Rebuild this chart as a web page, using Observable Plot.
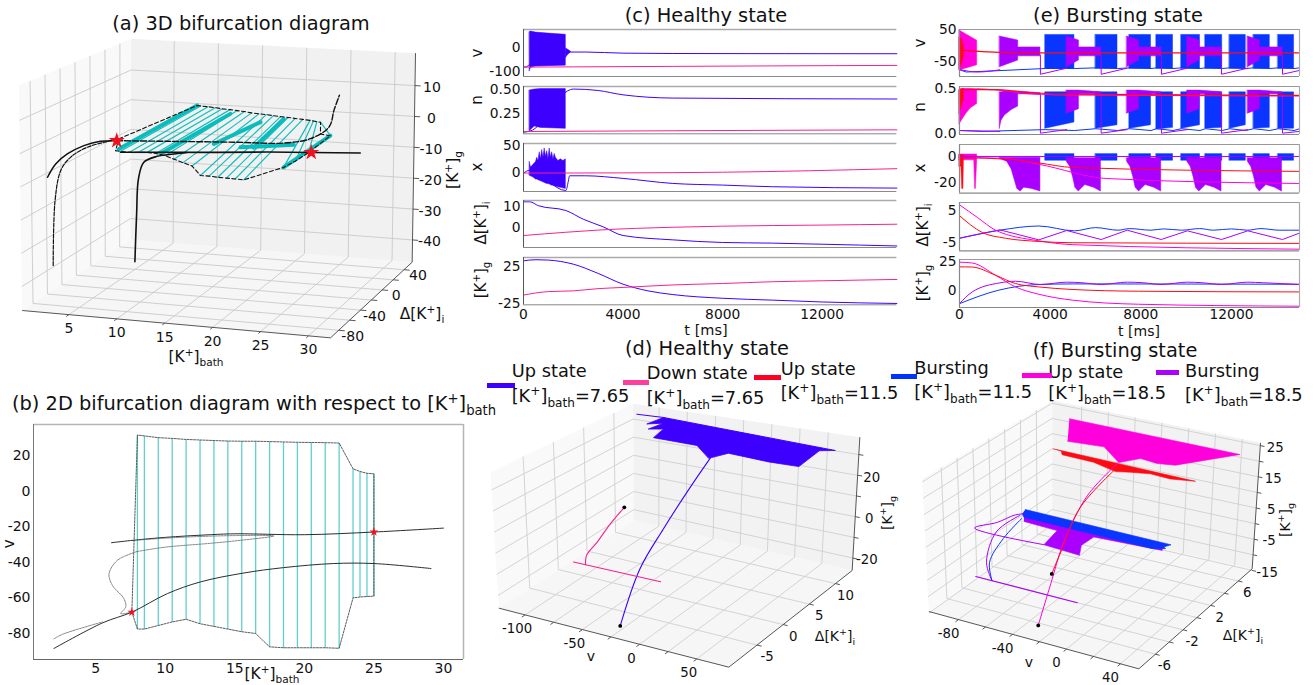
<!DOCTYPE html>
<html><head><meta charset="utf-8">
<script src="https://cdn.jsdelivr.net/npm/d3@7"></script>
<script src="https://cdn.jsdelivr.net/npm/@observablehq/plot@0.6"></script>
<style>
html,body{margin:0;padding:0;background:#fff}
#root{position:relative;width:1314px;height:685px;overflow:hidden;font-family:'DejaVu Sans',sans-serif;color:#111}
#root svg{position:absolute;background:transparent}
.lb{position:absolute;white-space:nowrap;line-height:1}
.lb sup,.lb sub{font-size:68%;line-height:0}
.sw{position:absolute}
</style></head><body><div id="root"></div>
<script>
// ---------- panel (b) ----------
const burstX=[8,8.5,9.5,10.5,11.5,12.5,13.5,14.5,15.5,16.5,17.5,18.5,19.5,20.5,21.5,22.5,23.5,24,24.5,25];
const bTop=[31.5,31,30,29.6,29,28.7,28.4,28.1,28,28,27.8,27.6,27.4,27.3,27.2,27,12.5,11,10,9.7];
const bBot=[-77.5,-77.5,-75.5,-73.5,-72,-74.5,-76,-77.5,-79,-80,-87.5,-88,-88,-88,-88,-88.3,-60,-59.5,-59.2,-59];
const bUpperX=[6.13,7.5,10,13,15,20,25,30];
const bUpperV=[-29,-27.8,-26,-24.6,-24,-24.5,-23,-20.8];
const bReturnX=[7.95,10,13,15,17.8,15,11,8];
const bReturnV=[-34,-31.5,-29.5,-28,-25.2,-25,-26,-27.5];
const bSX=[7.95,6.56,5.96,6.2,7.03,7.16,6.8,7.6];
const bSV=[-34,-38.9,-46.4,-52.9,-60.4,-65,-68.8,-68];
const bLowX=[2,5.5,7.6,10.15,12.54,15.66,18.5,22.1,25,29.1];
const bLowV=[-88.4,-74,-68,-57.6,-51,-46,-43,-40.7,-40.7,-43.5];
const bShortX=[2,2.6,5.5];
const bShortV=[-83,-80.5,-73.5];
const bStarX=[7.6,25];
const bStarV=[-68,-23];
// ---------- panel (c) ----------
const cVBurstT=[250,300,500,1000,1700];
const cVBurstTop=[62,64.6,60,56,51];
const cVBurstBot=[-99,-85,-80,-78,-76];
const cVBumpT=[1700,1780,1900];
const cVBumpTop=[-5,-10,-18];
const cVBumpBot=[-45,-33,-22];
const cVUpT=[0,100,250,1900,2500,4000,6000,15000];
const cVUpV=[-80,-82,-70,-20,-20,-24.6,-26,-27];
const cVDownT=[0,2000,6000,10000,15000];
const cVDownV=[-82,-81,-79,-77,-75];
const cNBurstT=[250,450,700,1700];
const cNBurstTop=[.49,.5,.505,.505];
const cNBurstBot=[.06,.11,.095,.085];
const cNUpT=[0,250,2000,3000,4000,6000,15000];
const cNUpV=[.05,.06,.505,.49,.444,.41,.4];
const cNDownT=[0,6000,15000];
const cNDownV=[.057,.065,.075];
const cXBurstT=[250,300,400,500,550,600,650,700,750,800,850,900,950,1000,1050,1100,1150,1200,1250,1300,1400,1500,1600,1700];
const cXBurstTop=[20,10,15,20,28,22,38,25,42,28,45,30,40,25,45,28,38,25,35,28,22,25,22,25];
const cXBurstBot=[-5,-6,-8,-12,-12,-13,-14,-15,-16,-17,-18,-19,-20,-20,-21,-22,-23,-23,-24,-25,-26,-27,-28,-29];
const cXUpT=[0,250,1700,1800,1850,2500,4000,6000,8000,10000,15000];
const cXUpV=[0,5,-32,-15,-5,-5,-9.8,-19,-22,-25,-27.5];
const cXDownT=[0,4000,8000,15000];
const cXDownV=[0,.3,1.5,8];
const cKiUpT=[0,250,600,1700,2400,3200,4000,6000,8000,10000,12000,15000];
const cKiUpV=[12,12,10.2,8,4,.5,-3.5,-5.5,-6.7,-7,-7.5,-8.3];
const cKiDownT=[0,1700,3000,6000,8000,12000,15000];
const cKiDownV=[-3.5,-2,-1,.3,.8,1.3,1.7];
const cKgUpT=[0,500,1000,2000,3000,4000,5000,6000,8000,10000,12000,15000];
const cKgUpV=[32.5,34,33.5,28,15.5,1,-8,-13,-18,-20.5,-23,-25];
const cKgDownT=[0,1000,2000,3000,4000,6000,8000,10000,12000,15000];
const cKgDownV=[-13.7,-9,-8,-5,-3.4,0,1.9,4.3,5.6,7.4];
// ---------- panel (e) ----------
const eBlueStart=[3790,6010,7500,8690,9790,10850,11920,12980,14060];
const eBlueEnd=[5070,6970,8450,9420,10610,11590,12630,13690,14760];
const ePurpleStart=[1780,4730,7390,10050,12720];
const ePurpleMid=[2590,5270,7920,10590,13250];
const ePurpleEnd=[3570,6250,8910,11560,14250];
const eVPurpleTop=[28,15.6,-6,-6];
const eVPurpleBot=[-68,-47,-34,-34];
const eVMagT=[0,780];
const eVMagTop=[47,15];
const eVMagBot=[-78,-62];
const eVRedT=[0,100,190];
const eVRedTop=[24,20,-5];
const eVRedBot=[-73,-60,-35];
const eVBlueLowT=[0,300,1000,3790,5070,6010,6970,7500,8450,8690,9420,9790,10610,10850,11590,11920,12630,12980,13690,14060,14760,15000];
const eVBlueLowV=[-76,-83,-81,-72,-72,-70,-72,-70,-72,-70,-72,-70,-72,-70,-72,-70,-72,-70,-72,-70,-72,-70];
const eVPurpleFirstT=[0,800,1780];
const eVPurpleFirstV=[-75,-83,-76];
const ePurpleNext=[4730,7390,10050,12720,15000];
const eVGapHigh=-30;
const eVGapLow=-90;
const eVGapEnd=[-71,-71,-71,-71,-78];
const eVRedT2=[190,1000,3000,15000];
const eVRedV=[-15,-19,-23,-23];
const eNBlueTop=.46;
const eNBlueBot0=[.05,.05,.05,.04,.05,.05,.05,.05,.05];
const eNBlueBot1=[.12,.09,.09,.06,.09,.06,.09,.06,.05];
const eNPurple1T=[1780,1850,2000,2300,2590,2590,3570];
const eNPurple1Top=[.46,.46,.47,.47,.47,.47,.45];
const eNPurple1Bot=[.05,.14,.2,.26,.3,.44,.43];
const eNPurpleTop=[.48,.48,.48,.46];
const eNPurpleBot=[.22,.27,.44,.44];
const eNMagT=[0,100,300,500,780];
const eNMagTop=[.49,.5,.5,.5,.495];
const eNMagBot=[.1,.14,.22,.28,.33];
const eNRedT=[0,190];
const eNRedTop=[.48,.5];
const eNRedBot=[.22,.38];
const eNRedLineT=[190,1500,3000,4500,15000];
const eNRedLineV=[.49,.49,.46,.44,.425];
const eNMagLineT=[780,1500,3000,4500,15000];
const eNMagLineV=[.5,.49,.45,.43,.42];
const eNBlueLowT=[0,1000,3790,5070,6010,6970,7500,8450,8690,9420,9790,10610,10850,11590,11920,12630,12980,13690,14060,14760,15000];
const eNBlueLowV=[.03,.02,.04,.03,.05,.03,.05,.03,.05,.03,.05,.03,.05,.03,.05,.03,.05,.03,.05,.03,.05];
const eNPurpleFirstT=[0,1780];
const eNPurpleFirstV=[.03,.02];
const eNGapHigh=.44;
const eNGapLow=0;
const eNGapEnd=[.04,.04,.04,.04,.02];
const eXBlueTop=1.8;
const eXBlueBot=-3.3;
const eXPurple1T=[1780,2100,2300,2450,2550,2700,2850,3200,3570];
const eXPurple1Bot=[-2,-4,-10,-19,-25,-27,-24,-25,-27];
const eXPurpleOff=[0,150,280,380,530,820,1200,1510];
const eXPurpleBot=[-4,-8,-16,-24,-27,-22,-24,-27];
const eXMagT=[0,650,690,720,780];
const eXMagBot=[-3,-3,-25,-25,-3];
const eXRedT=[0,80,120,170,190];
const eXRedBot=[-8,-8,-25,-25,-6];
const eXRedLineT=[190,2000,3500,5000,15000];
const eXRedLineV=[-1,-2,-5,-8.5,-11.5];
const eXMagLineT=[780,2000,3500,6500,15000];
const eXMagLineV=[-1,-1.5,-6,-17,-20.8];
const eKiMagT=[0,780,1590,3500,5000,15000];
const eKiMagV=[6.9,3,-1,-4.3,-5.5,-6.9];
const eKiRedT=[0,1000,2030,3500,5000,15000];
const eKiRedV=[3.5,-1.7,-3.5,-4.5,-4.9,-5.1];
const eKiBlueT=[0,1780,3500,5070,6000,7000,7500,8450,9000,9800,10600,11200,12000,12700,13300,14100,15000];
const eKiBlueV=[-3.5,-1,.3,-1.2,-.2,-1,-.5,-1,-.6,-1,-.5,-1,-.6,-1,-.5,-1,-1];
const eKiPurpleT=[0,1780,3500,4730,6250,7400,8900,10050,11560,12720,14250,15000];
const eKiPurpleV=[-3.5,-.9,-4,-1.1,-3.9,-1,-3.9,-1.2,-3.9,-1.2,-3.9,-1.9];
const eKgMagT=[0,560,1590,2470,3500,5000,7900,15000];
const eKgMagV=[24.7,24,13.5,3.4,-2.9,-8,-11.5,-13.2];
const eKgRedT=[0,560,1590,2470,3500,5000,7900,15000];
const eKgRedV=[20.7,20.5,13.5,6.3,3.4,1.2,-.3,-.9];
const eKgBlueT=[0,1730,3500,5000,15000];
const eKgBlueV=[-11,.6,5.5,6,5.7];
const eKgPurpleT=[0,560,1780,2470,3570,4730,5400,6250,7400,8100,8900,10050,10700,11560,12720,13400,15000];
const eKgPurpleV=[-11,-.9,6.9,8.3,5.5,7.5,7,5.5,7.5,7,5.5,7.5,7,5.5,7.5,7,5.5];
// ---------- panel (a): [K+]bath, d[K+]i, [K+]g ----------
const aTopY=[50,49,47,44.5,42,40,37.5,35,32,29.5,27,24,21,18.5,15.5,13,10,8,6,4.6];
const aTopZ=[.03,.1,.25,.4,.5,.65,.8,.95,1.05,1.2,1.4,1.6,1.8,2,2.2,2.35,2.55,2.65,2.75,2.85];
const aLowY=[-67.4,-67.7,-68.6,-69.4,-70.1,-71.5,-72,-73,-74,-74.7,-76.6,-78.2,-79.7,-81.2,-82.8,-84.4,-33.9,-22.1,-7.4,21.6];
const aLowZ=[-.75,-.85,-.88,-.62,-.36,-.35,-.8,-1.55,-2.3,-3.07,-5.5,-5.3,-5.3,-5.2,-5.1,-5,-6.9,-6.3,-5.3,-3.4];
const aStripes=[[8,-62.6,-.77,8,50.4,.03],[12.5,-64.7,-1.3,12.5,40.5,-.8],[16,-33.5,-1.1,16,39,-2.7],[19,-14.5,-3.9,19,33.4,-.5],[23.5,-33.9,-6.9,25,21.6,-3.4],[20,-50.9,.5,25,-40.7,1]];
const aCurve1=[[2,-82.4,-8.2],[2.7,-80.3,-4.3],[3.8,-78.7,-1.24],[5.3,-75.6,1.2],[6.8,-72.4,2.44],[7.65,-60.8,1.5]];
const aCurve4=[[7.65,-60.8,1.5],[13,-61.6,2.3],[19,-46.5,1.4],[24.5,-49.6,2.4],[26.5,-36.5,2.6],[28,-28.6,5.56],[28.5,-28.3,10.8],[29,-27.6,15.2]];
const aCurve2=[[2,-76,-35.8],[2.1,-73.7,-16.2],[2.6,-72,-7.2],[3.5,-70,-3.2],[5.3,-71,.2],[7.6,-66.7,2.2]];
const aCurve3=[[2,38.2,-51.4],[2.2,38,-35.6],[2.4,38,-23.8],[3,38,-18.2],[5,31.6,-15],[7,29.8,-13.6],[8.5,29.5,-12.8]];
const aCurve5=[[8,-60.2,-2.05],[18,-57.9,-.6],[22,-38.3,-2],[25,-10.7,-4.8],[30,-5.5,-4.7]];
const aStars=[[7.65,-60.8,1.5],[25,-10.7,-4.8]];
const aOutlineStart=[8,-62.6,2.3];
const aOutlineStep=[25,4.6,-.87];
// ---------- panel (d): v, d[K+]i, [K+]g ----------
const dBand=[[-83.6,10.8,38.4],[-98.3,10.8,33.6],[-83.6,10.8,35.4],[-97,10.8,31],[-83.6,10.8,32.3],[-92.4,10.8,26.9],[-53.9,10.8,26.5],[-43.4,10.8,20.9],[-26,10.8,25.2],[9.7,10.8,24.2],[36.4,10.8,24.4],[53.7,10.8,33.6],[67.3,10.8,34.9]];
const dSpike=[[-107,10.8,38],[-83.6,10.8,38.4],[67.3,10.8,34.9]];
const dUpTail=[[-27,-8.3,-25],[-25,-5.2,-4.1],[-25,-1,7.6],[-25,3.2,18.4],[-25,7.3,28.5]];
const dDownTail=[[-78,-4,-10.5],[-78,-3.8,-6.4],[-77,-2.1,-2.8],[-77,.2,2.1],[-72,1.7,8.4]];
const dDownLine=[[-91,-3.5,-11.7],[-15,-3.5,-11.7]];
const dEnds=[[-27,-8.3,-25],[-72,1.7,8.4]];
// ---------- panel (f): v, d[K+]i, [K+]g ----------
const fMagBand=[[-82.7,6.9,23.4],[44.3,6.9,23.1],[-3,6.9,15.5],[-16.7,6.9,14.8],[-29.2,6.9,15.3],[-45.4,6.9,12.5],[-56.6,6.9,16.6],[-84,6.9,15.9]];
const fRedBand=[[-75.2,3.5,19.7],[29.5,3.5,18.8],[11.1,3.5,17.9],[-3.7,3.5,18.2],[-18.3,3.5,17.4],[-29.3,3.5,16.6],[-45.4,3.5,18.1],[-68.6,3.5,18.4],[-69.2,3.5,19.4]];
const fBlueBand=[[-70.6,-1,8.1],[36.2,-1,7.3],[31.2,-1,6.2],[32.4,-1,5.8],[22.6,-1,4.9],[-71.7,-1,5.6],[-72.9,-1,6.55]];
const fPurpleBand=[[-71.7,-1,6.1],[30,-1,6.5],[30,-1,5.05],[-20.3,-1,4.4],[-29.3,-1,1],[-30.6,-1,-2.2],[-57,-1,-1.5],[-47.2,-1,3.8],[-71.7,-1,4.3]];
const fPurpleSpike=[[-57,-1,-1.5],[-108.5,-1,-1.4],[-91.3,-1,2.1],[-79,-1,5.5],[-71.7,-1,6.7]];
const fPurpleLow=[[-94.2,-3.5,-11],[-18.3,-3.5,-11.1]];
const fPurpleTail=[[-82,-3.5,-11],[-88.7,-3,-6.9],[-87.7,-1.8,.8],[-74.6,-1,5.9]];
const fBlueTail=[[-82,-3.5,-11],[-86.4,-3,-6.6],[-82.6,-1.8,-.8],[-73.4,-1,5]];
const fRedTail=[[-29,-5.1,-.9],[-31,-3.5,2.9],[-27,-1.7,13.8],[-30,3.4,17]];
const fMagTail=[[-29,-6.9,-13.2],[-29.6,-5.1,-3.9],[-28.9,-3.5,6.1],[-33.8,.6,13.4],[-34.2,4.7,16.9]];
const fEnds=[[-29,-6.9,-13.2],[-29,-5.1,-.9]];

// ---------- legend ----------
const legendColors=["#3d00ff","#ff3fa0","#ff0022","#0033ff","#ff00dd","#a900ff"];
const legendTop=["Up state","Down state","Up state","Bursting","Up state","Bursting"];
const legendBath=["7.65","7.65","11.5","11.5","18.5","18.5"];

// ---------- styles ----------
const C_UP="#3d00ff",C_DOWN="#f5218f",C_RED="#ff0a14",C_BLUE="#0a35ff",C_MAG="#ff00dd",C_PUR="#a900ff";
const root=document.getElementById("root");
const FF="'DejaVu Sans',sans-serif";
const K="[K<sup>+</sup>]";
function label(html,x,y,size,rot,anchor){
  const d=document.createElement("div");d.className="lb";d.innerHTML=html;
  d.style.left=x+"px";d.style.top=y+"px";d.style.fontSize=size+"px";
  d.style.transform=(anchor==="left"?"translate(0,-50%)":"translate(-50%,-50%)")+(rot?` rotate(${rot}deg)`:"");
  root.appendChild(d);
}
function place(svg,l,t){svg.style.left=l+"px";svg.style.top=t+"px";root.appendChild(svg);}
const L=(T,V,c,w=1,extra={})=>Plot.lineY(V,{x:T,stroke:c,strokeWidth:w,curve:"monotone-x",...extra});
const A=(T,top,bot,c)=>Plot.areaY(T,{x:T,y1:top,y2:bot,fill:c,stroke:c,strokeWidth:.5});
const XY=(X,Y,o)=>Plot.line(X.map((x,i)=>[x,Y[i]]),{curve:"catmull-rom",...o});

function panel2D({left,top,width,height,xDomain,yDomain,yTicks,yFmt,xTicks,xPad=4,fontSize=13.8,marks,frame}){
  const ML=48,MR=12,MT=8,MB=24;
  const all=[...marks,...frame,
    Plot.axisY(yTicks,{tickSize:0,tickPadding:3,tickFormat:yFmt||(d=>String(d)),label:null}),
  ];
  if(xTicks) all.push(Plot.axisX(xTicks,{tickSize:0,tickPadding:xPad,tickFormat:d=>String(d),label:null}));
  const p=Plot.plot({width:width+ML+MR,height:height+MT+MB,marginLeft:ML,marginRight:MR,marginTop:MT,marginBottom:MB,
    x:{domain:xDomain,axis:null},y:{domain:yDomain,axis:null},
    style:{fontFamily:FF,fontSize:fontSize+"px",color:"#111",background:"transparent",overflow:"visible"},marks:all});
  place(p,left-ML,top-MT);
}
const cFrame=(xd,yd)=>[
  Plot.ruleY([yd[1]],{stroke:"#aaa",strokeWidth:1.5}),Plot.ruleY([yd[0]],{stroke:"#888",strokeWidth:1}),
  Plot.ruleX([xd[0]],{stroke:"#555",strokeWidth:1})];
const eFrame=(xd,yd)=>[
  Plot.ruleY([yd[1]],{stroke:"#999",strokeWidth:1.2}),Plot.ruleY([yd[0]],{stroke:"#888",strokeWidth:1.2}),
  Plot.ruleX([xd[0]],{stroke:"#888",strokeWidth:1.2}),Plot.ruleX([xd[1]],{stroke:"#aaa",strokeWidth:1.2})];

// === panel (b) ===
{
  const xd=[.53,31.44],yd=[-94.6,37.4];
  const outX=[7.6,...burstX,...[...burstX].reverse(),7.6];
  const outV=[-68,...bTop,...[...bBot].reverse(),-68];
  panel2D({left:33,top:424,width:430,height:235,xDomain:xd,yDomain:yd,yTicks:[20,0,-20,-40,-60,-80],xTicks:[5,10,15,20,25,30],fontSize:14,
    frame:[Plot.ruleY([yd[1]],{stroke:"#b5b5b5",strokeWidth:1.5}),Plot.ruleX([xd[1]],{stroke:"#b5b5b5",strokeWidth:1.5}),
           Plot.ruleY([yd[0]],{stroke:"#666",strokeWidth:1}),Plot.ruleX([xd[0]],{stroke:"#777",strokeWidth:1})],
    marks:[
      Plot.link(burstX,{x1:d=>d,x2:d=>d,y1:(d,i)=>bTop[i],y2:(d,i)=>bBot[i],stroke:"#62cfcf",strokeWidth:1.3}),
      XY(outX,outV,{curve:"linear",stroke:"#333",strokeWidth:.8,strokeDasharray:"2,1.2"}),
      XY(bUpperX,bUpperV,{stroke:"#222",strokeWidth:.95}),
      XY(bReturnX,bReturnV,{stroke:"#666",strokeWidth:.8,strokeDasharray:"2,1"}),
      XY(bSX,bSV,{stroke:"#666",strokeWidth:.8,strokeDasharray:"2,1"}),
      XY(bLowX,bLowV,{stroke:"#222",strokeWidth:.95}),
      XY(bShortX,bShortV,{stroke:"#666",strokeWidth:.8,strokeDasharray:"2,1"}),
      Plot.dot(bStarX.map((x,i)=>[x,bStarV[i]]),{symbol:"star",fill:"#f01020",r:2.8}),
    ]});
}
// === panel (c) ===
{
  const xd=[0,15000],x=523.3,w=373.4;
  const rows=[
    {top:29,h:47,yd:[-120.6,72.8],t:[0,-100],m:[A(cVBurstT,cVBurstTop,cVBurstBot,C_UP),A(cVBumpT,cVBumpTop,cVBumpBot,C_UP),L(cVUpT,cVUpV,C_UP),L(cVDownT,cVDownV,C_DOWN)]},
    {top:86,h:47.3,yd:[.033,.532],t:[.5,.25],f:d3.format(".2f"),m:[A(cNBurstT,cNBurstTop,cNBurstBot,C_UP),L(cNUpT,cNUpV,C_UP),L(cNDownT,cNDownV,C_DOWN)]},
    {top:142.7,h:48,yd:[-33.7,54],t:[50,0],m:[A(cXBurstT,cXBurstTop,cXBurstBot,C_UP),L(cXUpT,cXUpV,C_UP),L(cXDownT,cXDownV,C_DOWN)]},
    {top:200.3,h:47,yd:[-9,12.6],t:[10,0],m:[L(cKiUpT,cKiUpV,C_UP),L(cKiDownT,cKiDownV,C_DOWN)]},
    {top:256.7,h:47.3,yd:[-26.8,37],t:[25,-25],xt:[0,4000,8000,12000],m:[L(cKgUpT,cKgUpV,C_UP),L(cKgDownT,cKgDownV,C_DOWN)]},
  ];
  for(const r of rows) panel2D({left:x,top:r.top,width:w,height:r.h,xDomain:xd,yDomain:r.yd,yTicks:r.t,yFmt:r.f,xTicks:r.xt,marks:r.m,frame:cFrame(xd,r.yd)});
}
// === panel (e) ===
{
  const xd=[0,15000],x=959,w=340;
  const lin={curve:"linear"};
  const blueRect=(top,bot)=>eBlueStart.map((s,i)=>A([s,eBlueEnd[i]],[top,top],[bot,bot],C_BLUE));
  const purV=ePurpleStart.map((s,i)=>A([s,ePurpleMid[i],ePurpleMid[i],ePurpleEnd[i]],eVPurpleTop,eVPurpleBot,C_PUR));
  const purN=ePurpleStart.slice(1).map((s,i)=>A([s,ePurpleMid[i+1],ePurpleMid[i+1],ePurpleEnd[i+1]],eNPurpleTop,eNPurpleBot,C_PUR));
  const purX=ePurpleStart.slice(1).map((s)=>{const T=eXPurpleOff.map(o=>s+o);return A(T,T.map(()=>-1.3),eXPurpleBot,C_PUR);});
  const blueN=eBlueStart.map((s,i)=>A([s,eBlueEnd[i]],[eNBlueTop,eNBlueTop],[eNBlueBot0[i],eNBlueBot1[i]],C_BLUE));
  const gapsV=ePurpleEnd.map((e,i)=>L([e,e,ePurpleNext[i]],[eVGapHigh,eVGapLow,eVGapEnd[i]],C_PUR,1,lin));
  const gapsN=ePurpleEnd.map((e,i)=>L([e,e,ePurpleNext[i]],[eNGapHigh,eNGapLow,eNGapEnd[i]],C_PUR,1,lin));
  const rows=[
    {top:29,h:47,yd:[-97,50],t:[50,-50],m:[...blueRect(33,-73),L(eVBlueLowT,eVBlueLowV,C_BLUE,1,lin),...purV,A(eVMagT,eVMagTop,eVMagBot,C_MAG),A(eVRedT,eVRedTop,eVRedBot,C_RED),
      L(eVPurpleFirstT,eVPurpleFirstV,C_PUR),...gapsV,L(eVRedT2,eVRedV,C_RED,1.2)]},
    {top:86,h:48,yd:[-.015,.526],t:[.5,0],f:d3.format(".1f"),m:[...blueN,L(eNBlueLowT,eNBlueLowV,C_BLUE,1,lin),A(eNPurple1T,eNPurple1Top,eNPurple1Bot,C_PUR),...purN,A(eNMagT,eNMagTop,eNMagBot,C_MAG),A(eNRedT,eNRedTop,eNRedBot,C_RED),
      L(eNPurpleFirstT,eNPurpleFirstV,C_PUR),...gapsN,L(eNMagLineT,eNMagLineV,C_MAG,1.2),L(eNRedLineT,eNRedLineV,C_RED,1.2)]},
    {top:143.7,h:48.6,yd:[-28.2,9.2],t:[0,-20],m:[...blueRect(eXBlueTop,eXBlueBot),A(eXPurple1T,eXPurple1T.map(()=>-1),eXPurple1Bot,C_PUR),...purX,A(eXMagT,eXMagT.map(()=>1.5),eXMagBot,C_MAG),A(eXRedT,eXRedT.map(()=>1),eXRedBot,C_RED),
      L([0,15000],[0,0],C_PUR),L(eXMagLineT,eXMagLineV,C_MAG),L(eXRedLineT,eXRedLineV,C_RED)]},
    {top:201.7,h:48.3,yd:[-7.4,7.6],t:[5,-5],m:[L(eKiBlueT,eKiBlueV,C_BLUE),L(eKiPurpleT,eKiPurpleV,C_PUR,1,lin),L(eKiMagT,eKiMagV,C_MAG),L(eKiRedT,eKiRedV,C_RED)]},
    {top:259.3,h:48,yd:[-14.3,27],t:[25,0],xt:[0,4000,8000,12000],m:[L(eKgBlueT,eKgBlueV,C_BLUE),L(eKgPurpleT,eKgPurpleV,C_PUR),L(eKgMagT,eKgMagV,C_MAG),L(eKgRedT,eKgRedV,C_RED)]},
  ];
  for(const r of rows) panel2D({left:x,top:r.top,width:w,height:r.h,xDomain:xd,yDomain:r.yd,yTicks:r.t,yFmt:r.f,xTicks:r.xt,xPad:2,marks:r.m,frame:eFrame(xd,r.yd)});
}
// === 3D boxes ===
function makeProject(c,dom){
  const [xa,xb]=dom.x,[ya,yb]=dom.y,[za,zb]=dom.z;
  return ([X,Y,Z])=>{
    const u=(X-xa)/(xb-xa),w=(Y-ya)/(yb-ya),h=(Z-za)/(zb-za);
    const lerp=(a,b,t)=>[a[0]+(b[0]-a[0])*t,a[1]+(b[1]-a[1])*t];
    const fr=lerp(c.A,c.B,u),bk=lerp(c.D,c.C,u),frT=lerp(c.E,c.F,u),bkT=lerp(c.H,c.G,u);
    return lerp(lerp(fr,bk,w),lerp(frT,bkT,w),h);
  };
}
function box3D({left,top,width,height,corners,dom,ticks,labels,off,fontSize,panes,gridColor,marks}){
  const P=makeProject(corners,dom);
  const [xa,xb]=dom.x,[ya,yb]=dom.y,[za,zb]=dom.z;
  const poly=(pts,fill)=>Plot.line(pts.map(P),{x:d=>d[0],y:d=>d[1],fill,stroke:"none"});
  const segs=[];
  for(const t of ticks.x){segs.push([[t,ya,za],[t,yb,za]],[[t,yb,za],[t,yb,zb]]);}
  for(const t of ticks.y){segs.push([[xa,t,za],[xb,t,za]],[[xa,t,za],[xa,t,zb]]);}
  for(const t of ticks.z){segs.push([[xa,ya,t],[xa,yb,t]],[[xa,yb,t],[xb,yb,t]]);}
  const link=(s,o)=>Plot.link(s,{x1:d=>P(d[0])[0],y1:d=>P(d[0])[1],x2:d=>P(d[1])[0],y2:d=>P(d[1])[1],...o});
  const tickSegs=[
    ...ticks.x.map(t=>[[t,ya,za],[t,ya-.025*(yb-ya),za]]),
    ...ticks.y.map(t=>[[xb,t,za],[xb+.02*(xb-xa),t,za]]),
    ...ticks.z.map(t=>[[xb,yb,t],[xb+.02*(xb-xa),yb,t]])];
  const edges=[[[xa,ya,za],[xb,ya,za]],[[xb,ya,za],[xb,yb,za]],[[xb,yb,za],[xb,yb,zb]]];
  const txt=(vals,f,o)=>Plot.text(vals,{x:d=>P(f(d))[0],y:d=>P(f(d))[1],text:d=>String(d),dx:o[0],dy:o[1],fill:"#111",textAnchor:"middle"});
  const all=[
    poly([[xa,ya,za],[xb,ya,za],[xb,yb,za],[xa,yb,za]],panes.floor),
    poly([[xa,ya,za],[xa,yb,za],[xa,yb,zb],[xa,ya,zb]],panes.left),
    poly([[xa,yb,za],[xb,yb,za],[xb,yb,zb],[xa,yb,zb]],panes.back),
    link(segs,{stroke:gridColor,strokeWidth:.9}),
    link(edges,{stroke:"#444",strokeWidth:.9}),
    link(tickSegs,{stroke:"#444",strokeWidth:.9}),
    txt(labels.x,d=>[d,ya,za],off.x),txt(labels.y,d=>[xb,d,za],off.y),txt(labels.z,d=>[xb,yb,d],off.z),
    ...marks(P)];
  const p=Plot.plot({width,height,margin:0,x:{domain:[0,width*3],range:[0,width],axis:null},y:{domain:[0,height*3],range:[0,height],axis:null},
    style:{fontFamily:FF,fontSize:fontSize+"px",color:"#111",background:"transparent",overflow:"visible"},marks:all});
  place(p,left,top);
}
const PL=(P,pts,o)=>Plot.line(pts.map(P),{x:d=>d[0],y:d=>d[1],strokeLinejoin:"round",...o});
const PD=(P,pts,o)=>Plot.dot(pts.map(P),{x:d=>d[0],y:d=>d[1],...o});
const CR="catmull-rom";

// panel (a)
box3D({left:0,top:0,width:470,height:375,fontSize:14,gridColor:"#c9c9c9",
  panes:{floor:"#f6f6f6",left:"#f9f9f9",back:"#f1f1f1"},
  corners:{A:[65,930],B:[990,1012],C:[1235,785],D:[390,718],E:[55,255],F:[1000,300],G:[1245,158],H:[392,115]},
  dom:{x:[.13,32.3],y:[-95,55],z:[-47.2,20.5]},
  ticks:{x:[5,10,15,20,25,30],y:[-80,-60,-40,-20,0,20,40],z:[-40,-30,-20,-10,0,10]},
  labels:{x:[5,10,15,20,25,30],y:[-80,-40,0,40],z:[-40,-30,-20,-10,0,10]},
  off:{x:[0,14],y:[14,6],z:[17,2]},
  marks:P=>[
    ...burstX.map((X,i)=>PL(P,[[X,aLowY[i],aLowZ[i]],[X,aTopY[i],aTopZ[i]]],{stroke:"#0fc0c0",strokeWidth:1.2})),
    ...aStripes.map(s=>PL(P,[s.slice(0,3),s.slice(3)],{stroke:"#0bbcbc",strokeWidth:4})),
    PL(P,[aOutlineStart,...burstX.map((X,i)=>[X,aTopY[i],aTopZ[i]]),aOutlineStep,...burstX.map((X,i)=>[X,aLowY[i],aLowZ[i]]).reverse(),aOutlineStart],{stroke:"#111",strokeWidth:1.1,strokeDasharray:"4,2.5"}),
    PL(P,aCurve1,{stroke:"#111",strokeWidth:1.5,curve:CR}),
    PL(P,aCurve4,{stroke:"#111",strokeWidth:1.4,strokeDasharray:"6,2",curve:CR}),
    PL(P,aCurve2,{stroke:"#111",strokeWidth:1.2,strokeDasharray:"4,1.5",curve:CR}),
    PL(P,aCurve3,{stroke:"#111",strokeWidth:1.6,curve:CR}),
    PL(P,aCurve5,{stroke:"#111",strokeWidth:1.6}),
    PD(P,aStars,{symbol:"star",fill:"#f01020",r:5}),
  ]});
// panel (d)
box3D({left:470,top:335,width:440,height:350,fontSize:13.3,gridColor:"#cfcfcf",
  panes:{floor:"#f6f6f6",left:"#f9f9f9",back:"#f2f2f2"},
  corners:{A:[85,818],B:[775,995],C:[1145,705],D:[490,555],E:[60,410],F:[805,535],G:[1168,305],H:[488,205]},
  dom:{x:[-123,78],y:[-10.4,13.2],z:[-26,38.4]},
  ticks:{x:[-100,-75,-50,-25,0,25,50],y:[-5,0,5,10],z:[-20,-10,0,10,20,30]},
  labels:{x:[-100,-50,0,50],y:[-5,0,5,10],z:[-20,0,20]},
  off:{x:[-8,14],y:[10,12],z:[14,2]},
  marks:P=>[
    PL(P,dBand,{fill:C_UP,stroke:C_UP,strokeWidth:.8}),
    PL(P,dSpike,{stroke:C_UP,strokeWidth:1}),
    PL(P,dUpTail,{stroke:C_UP,strokeWidth:1.1,curve:CR}),
    PL(P,dDownTail,{stroke:C_DOWN,strokeWidth:1.1,curve:CR}),
    PL(P,dDownLine,{stroke:C_DOWN,strokeWidth:1.1}),
    PD(P,dEnds,{fill:"#000",r:1.9}),
  ]});
// panel (f)
box3D({left:880,top:335,width:434,height:350,fontSize:13.3,gridColor:"#cfcfcf",
  panes:{floor:"#f6f6f6",left:"#f9f9f9",back:"#f2f2f2"},
  corners:{A:[145,828],B:[775,1000],C:[1115,700],D:[515,563],E:[125,430],F:[803,565],G:[1140,322],H:[515,195]},
  dom:{x:[-102,53.6],y:[-8.4,8],z:[-14.5,25.9]},
  ticks:{x:[-80,-60,-40,-20,0,20,40],y:[-6,-4,-2,0,2,4,6],z:[-15,-10,-5,0,5,10,15,20,25]},
  labels:{x:[-80,-40,0,40],y:[-6,-2,2,6],z:[-15,-5,5,15,25]},
  off:{x:[-10,14],y:[9,12],z:[15,2]},
  marks:P=>[
    PL(P,fPurpleBand,{fill:C_PUR,stroke:C_PUR,strokeWidth:.6}),
    PL(P,fBlueBand,{fill:C_BLUE,stroke:C_BLUE,strokeWidth:.6}),
    PL(P,fPurpleSpike,{stroke:C_PUR,strokeWidth:1,curve:CR}),
    PL(P,fPurpleLow,{stroke:C_PUR,strokeWidth:1.2}),
    PL(P,fPurpleTail,{stroke:C_PUR,strokeWidth:1,curve:CR}),
    PL(P,fBlueTail,{stroke:C_BLUE,strokeWidth:1,curve:CR}),
    PL(P,fMagBand,{fill:C_MAG,stroke:C_MAG,strokeWidth:.6}),
    PL(P,fRedBand,{fill:C_RED,stroke:C_RED,strokeWidth:.6}),
    PL(P,fMagTail,{stroke:C_MAG,strokeWidth:1,curve:CR}),
    PL(P,fRedTail,{stroke:C_RED,strokeWidth:1,curve:CR}),
    PD(P,fEnds,{fill:"#000",r:1.9}),
  ]});

// === titles & labels ===
const TS=19.4;
label("(a) 3D bifurcation diagram",241,24,TS);
label(`(b) 2D bifurcation diagram with respect to ${K}<sub>bath</sub>`,12,404,TS,0,"left");
label("(c) Healthy state",706,16,TS);
label("(d) Healthy state",707,348.5,TS);
label("(e) Bursting state",1118,16,TS);
label("(f) Bursting state",1115,350.5,TS);
label(`${K}<sub>bath</sub>`,196,358,15.5);
label(`Δ${K}<sub>i</sub>`,422,315,15.5);
label(`${K}<sub>g</sub>`,454,170,15.5,-90);
label("v",10,544,15.5,-90);
label(`${K}<sub>bath</sub>`,272,675,15.5);
for(const [t,x,y] of [["v",477,53],["n",477,100],["x",477,167],[`Δ${K}<sub>i</sub>`,481,223],[`${K}<sub>g</sub>`,481,280]]) label(t,x,y,15,-90);
for(const [t,x,y] of [["v",920,43],["n",920,107],["x",920,168],[`Δ${K}<sub>i</sub>`,923,225],[`${K}<sub>g</sub>`,923,283]]) label(t,x,y,15,-90);
label("t [ms]",706,330,14.5);
label("t [ms]",1139,331,14);
label("v",591,656,14);label(`Δ${K}<sub>i</sub>`,835,636,14);label(`${K}<sub>g</sub>`,887,513,14,-90);
label("v",1029,662,14);label(`Δ${K}<sub>i</sub>`,1243,635,14);label(`${K}<sub>g</sub>`,1285,520,14,-90);
// legend
const legX=[511.7,646.7,780.7,914.3,1048.3,1185];
const legY1=[371,373.3,369.3,367.7,372.3,370.7];
const legY2=[396,397.7,393.3,392.3,393,395];
const swX=[486.7,623,754,890.7,1022,1156];
const swW=[28.3,26,27,26.5,30,23];
const swY=[385,382,377.7,376.7,375,372.3];
legendTop.forEach((t,i)=>{
  label(t,legX[i],legY1[i],17.8,0,"left");
  label(`${K}<sub>bath</sub>=${legendBath[i]}`,legX[i],legY2[i],17.8,0,"left");
  const s=document.createElement("div");s.className="sw";
  s.style.cssText=`left:${swX[i]}px;top:${swY[i]-2.5}px;width:${swW[i]}px;height:5px;background:${legendColors[i]}`;
  root.appendChild(s);
});
</script></body></html>
